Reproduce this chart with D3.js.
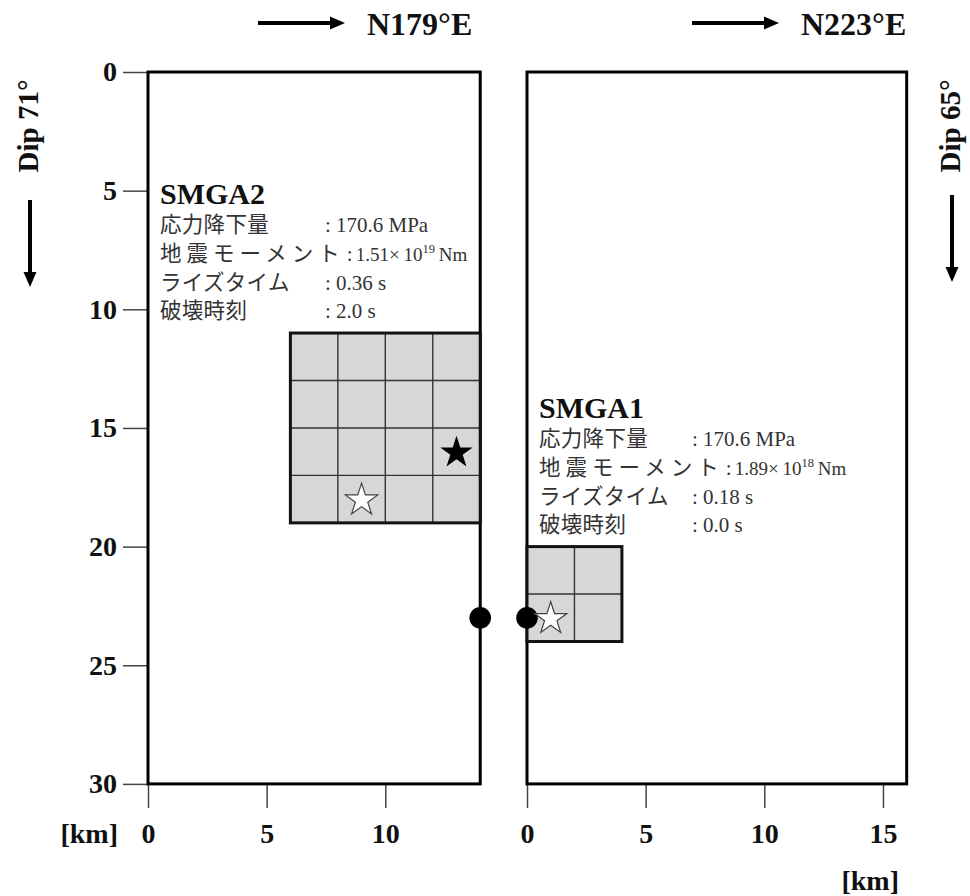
<!DOCTYPE html>
<html><head><meta charset="utf-8">
<script src="https://cdn.jsdelivr.net/npm/d3@7"></script>
<style>body{margin:0;background:#fff}</style>
</head><body>
<svg id="c" width="970" height="896"></svg>
<script>
// ---- data ----
const depthTicks = [0, 5, 10, 15, 20, 25, 30];
const leftStrikeTicks = [0, 5, 10];
const rightStrikeTicks = [0, 5, 10, 15];
const panelLength = [14, 16];          // km along strike
const panelDepth = [30, 30];           // km down dip
const strikeLabels = ["N179°E", "N223°E"];
const dipLabels = ["Dip 71°", "Dip 65°"];
const smgaNames = ["SMGA2", "SMGA1"];
const smgaPanel = [0, 1];
const smgaX = [6, 0];
const smgaY = [11, 20];
const smgaSize = [8, 4];
const smgaCells = [4, 2];
const paramLabels = ["応力降下量", "地震モーメント", "ライズタイム", "破壊時刻"];
const stressDrop = ["170.6 MPa", "170.6 MPa"];
const momentMantissa = ["1.51", "1.89"];
const momentExponent = ["19", "18"];
const riseTime = ["0.36 s", "0.18 s"];
const ruptureTime = ["2.0 s", "0.0 s"];
const startPanel = [0, 1];             // white stars (rupture start points)
const startX = [9, 1];
const startY = [18, 23];
const hypoPanel = [0];                 // black star (hypocenter)
const hypoX = [13];
const hypoY = [16];
const dotPanel = [0, 1];               // black dots (junction)
const dotX = [14, 0];
const dotY = [23, 23];

// ---- layout ----
const svg = d3.select("#c");
const k = 23.73;
const panelLeft = [148, 527];
const top0 = 72;
const xs = panelLength.map((L, i) => d3.scaleLinear().domain([0, L]).range([panelLeft[i], panelLeft[i] + L * k]));
const y = d3.scaleLinear().domain([0, 30]).range([top0, top0 + 30 * k]);
const serif = "'Liberation Serif','Times New Roman',serif";
const jp = "'Noto Sans CJK JP','Noto Sans CJK SC',sans-serif";

// axes
const yAxis = svg.append("g").attr("transform", `translate(${panelLeft[0]},0)`)
  .call(d3.axisLeft(y).tickValues(depthTicks).tickSize(25).tickPadding(6));
const xAxisL = svg.append("g").attr("transform", `translate(0,${y(30)})`)
  .call(d3.axisBottom(xs[0]).tickValues(leftStrikeTicks).tickSize(24));
const xAxisR = svg.append("g").attr("transform", `translate(0,${y(30)})`)
  .call(d3.axisBottom(xs[1]).tickValues(rightStrikeTicks).tickSize(24));
[yAxis, xAxisL, xAxisR].forEach(g => {
  g.select(".domain").remove();
  g.selectAll(".tick line").attr("stroke", "#444").attr("stroke-width", 1.5);
  g.selectAll(".tick text").attr("font-family", serif).attr("font-weight", "bold")
    .attr("font-size", 28).attr("fill", "#111");
});
[xAxisL, xAxisR].forEach(g => g.selectAll(".tick text").attr("y", 59).attr("dy", null));

// panels
panelLength.forEach((L, i) => {
  svg.append("rect")
    .attr("x", xs[i](0)).attr("y", y(0))
    .attr("width", xs[i](L) - xs[i](0)).attr("height", y(panelDepth[i]) - y(0))
    .attr("fill", "none").attr("stroke", "#000").attr("stroke-width", 3);
});

// SMGAs
smgaNames.forEach((n, i) => {
  const xsc = xs[smgaPanel[i]];
  const g = svg.append("g");
  const x0 = xsc(smgaX[i]), x1 = xsc(smgaX[i] + smgaSize[i]);
  const y0 = y(smgaY[i]), y1 = y(smgaY[i] + smgaSize[i]);
  g.append("rect").attr("x", x0).attr("y", y0).attr("width", x1 - x0).attr("height", y1 - y0)
    .attr("fill", "#d7d7d7");
  const step = smgaSize[i] / smgaCells[i];
  d3.range(1, smgaCells[i]).forEach(j => {
    g.append("line").attr("x1", xsc(smgaX[i] + j * step)).attr("x2", xsc(smgaX[i] + j * step))
      .attr("y1", y0).attr("y2", y1).attr("stroke", "#333").attr("stroke-width", 1.4);
    g.append("line").attr("y1", y(smgaY[i] + j * step)).attr("y2", y(smgaY[i] + j * step))
      .attr("x1", x0).attr("x2", x1).attr("stroke", "#333").attr("stroke-width", 1.4);
  });
  g.append("rect").attr("x", x0).attr("y", y0).attr("width", x1 - x0).attr("height", y1 - y0)
    .attr("fill", "none").attr("stroke", "#111").attr("stroke-width", 3);
});

// dots
dotX.forEach((dx, i) => {
  svg.append("circle").attr("cx", xs[dotPanel[i]](dx)).attr("cy", y(dotY[i])).attr("r", 10.8).attr("fill", "#000");
});

// stars
const starR = 17;
const starPath = d3.symbol(d3.symbolStar).size(starR * starR / 0.8908130915292852)();
hypoX.forEach((hx, i) => {
  svg.append("path").attr("d", starPath)
    .attr("transform", `translate(${xs[hypoPanel[i]](hx)},${y(hypoY[i]) + 1})`).attr("fill", "#000");
});
startX.forEach((sx, i) => {
  svg.append("path").attr("d", starPath)
    .attr("transform", `translate(${xs[startPanel[i]](sx)},${y(startY[i]) + 1})`)
    .attr("fill", "#fff").attr("stroke", "#444").attr("stroke-width", 1.2);
});

// SMGA parameter text
const colonX = [325, 692];
const lineOffsets = [28, 57, 86, 114];
smgaNames.forEach((n, i) => {
  const p = smgaPanel[i];
  const tx = panelLeft[p] + 12;
  const ty = y(smgaY[i]) - 129;
  svg.append("text").attr("x", tx).attr("y", ty).text(n)
    .attr("font-family", serif).attr("font-weight", "bold").attr("font-size", 30).attr("fill", "#111");
  const values = [stressDrop[i], null, riseTime[i], ruptureTime[i]];
  paramLabels.forEach((lab, j) => {
    const by = ty + lineOffsets[j];
    const lt = svg.append("text").attr("x", tx).attr("y", by).text(lab)
      .attr("font-family", jp).attr("font-size", 21.5).attr("fill", "#333")
      .attr("letter-spacing", j === 1 ? 5 : 0.3);
    const lw = lt.node().getComputedTextLength();
    const cx = Math.max(colonX[p], tx + lw + 2);
    svg.append("text").attr("x", cx).attr("y", by).text(":")
      .attr("font-family", serif).attr("font-size", 21).attr("fill", "#333");
    const vt = svg.append("text").attr("x", cx + (j === 1 ? 9 : 11)).attr("y", by)
      .attr("font-family", serif).attr("font-size", j === 1 ? 19 : 21).attr("fill", "#333");
    if (j === 1) {
      vt.append("tspan").text(momentMantissa[i] + "×\u200910");
      vt.append("tspan").text(momentExponent[i]).attr("font-size", 12.5).attr("dy", -8);
      vt.append("tspan").text("\u2009Nm").attr("dy", 8);
    } else {
      vt.text(values[j]);
    }
  });
});

// strike direction arrows & labels
const arrowStart = [258, 692];
strikeLabels.forEach((s, i) => {
  const ax = arrowStart[i], ay = 23;
  svg.append("line").attr("x1", ax).attr("x2", ax + 75).attr("y1", ay).attr("y2", ay)
    .attr("stroke", "#000").attr("stroke-width", 4);
  svg.append("path").attr("d", `M${ax + 72},${ay - 6.5}L${ax + 87},${ay}L${ax + 72},${ay + 6.5}Z`).attr("fill", "#000");
  svg.append("text").attr("x", ax + 109).attr("y", 35).text(s)
    .attr("font-family", serif).attr("font-weight", "bold").attr("font-size", 32).attr("fill", "#111");
});

// dip labels & arrows
const dipX = [38, 960];
const dipArrowX = [30, 952];
const dipArrowY = [200, 195];
dipLabels.forEach((d, i) => {
  svg.append("text").attr("transform", `translate(${dipX[i]},126) rotate(-90)`)
    .attr("text-anchor", "middle").text(d)
    .attr("font-family", serif).attr("font-weight", "bold").attr("font-size", 29).attr("fill", "#111");
  const ax = dipArrowX[i], ay = dipArrowY[i];
  svg.append("line").attr("x1", ax).attr("x2", ax).attr("y1", ay).attr("y2", ay + 75)
    .attr("stroke", "#000").attr("stroke-width", 4);
  svg.append("path").attr("d", `M${ax - 6.5},${ay + 72}L${ax},${ay + 87}L${ax + 6.5},${ay + 72}Z`).attr("fill", "#000");
});

// [km] unit labels
svg.append("text").attr("x", 118).attr("y", 843).attr("text-anchor", "end").text("[km]")
  .attr("font-family", serif).attr("font-weight", "bold").attr("font-size", 28).attr("fill", "#111");
svg.append("text").attr("x", 899).attr("y", 890).attr("text-anchor", "end").text("[km]")
  .attr("font-family", serif).attr("font-weight", "bold").attr("font-size", 28).attr("fill", "#111");
</script>
</body></html>
